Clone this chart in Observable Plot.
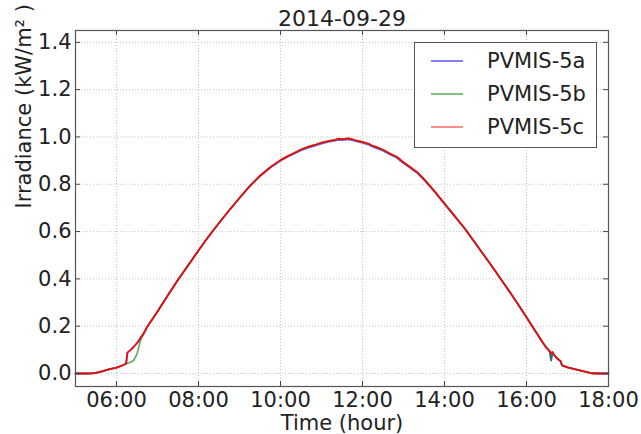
<!DOCTYPE html>
<html>
<head>
<meta charset="utf-8">
<script src="https://cdn.jsdelivr.net/npm/d3@7"></script>
<script src="https://cdn.jsdelivr.net/npm/@observablehq/plot@0.6"></script>
<style>
  html, body { margin: 0; padding: 0; background: #fff; }
  #wrap { position: relative; width: 641px; height: 434px; font-family: "DejaVu Sans", sans-serif; }
  #legend {
    position: absolute; left: 414px; top: 42px; width: 181px; height: 104px;
    border: 1px solid #555; background: #fff; box-sizing: content-box;
  }
  .entry { position: absolute; left: 0; height: 30px; display: flex; align-items: center; font-size: 21px; color: #222; }
  .swatch { display: inline-block; width: 32px; height: 2px; margin-left: 16px; margin-right: 24px; }
</style>
</head>
<body>
<div id="wrap"></div>
<script>
// Measurement day and series names
const title = "2014-09-29";
const seriesNames = ["PVMIS-5a", "PVMIS-5b", "PVMIS-5c"];
const seriesColors = ["#0000ff", "#008000", "#ff0000"];
const legendColors = ["#8080ff", "#80c080", "#ff8c8c"];

// Sample times (local clock, hh:mm)
const times = [
  "05:00","05:15","05:25","05:30","05:40","05:50","06:00","06:10","06:14","06:16",
  "06:20","06:25","06:30","06:35","06:40","06:45","07:00","07:15","07:30","07:45",
  "08:00","08:15","08:30","08:45","09:00","09:15","09:30","09:45","10:00","10:10",
  "10:20","10:30","10:40","10:50","11:00","11:10","11:20","11:25","11:30","11:40",
  "11:50","12:00","12:10","12:15","12:20","12:30","12:40","12:50","13:00","13:10",
  "13:20","13:30","13:45","14:00","14:15","14:30","14:45","15:00","15:15","15:30",
  "15:45","16:00","16:15","16:25","16:30","16:34","16:36","16:38","16:40","16:45",
  "16:50","16:52","17:00","17:15","17:30","17:35","17:45","18:00"
];

// Irradiance, kW/m^2
const pvmis5a = [
  0.000,0.000,0.001,0.003,0.010,0.018,0.025,0.036,0.041,0.088,
  0.098,0.112,0.128,0.150,0.170,0.198,0.262,0.330,0.396,0.458,
  0.520,0.580,0.636,0.690,0.742,0.792,0.834,0.870,0.899,0.915,
  0.929,0.943,0.954,0.962,0.972,0.979,0.984,0.988,0.987,0.990,
  0.982,0.975,0.966,0.958,0.953,0.942,0.926,0.912,0.889,0.869,
  0.848,0.819,0.770,0.717,0.664,0.611,0.551,0.491,0.430,0.368,
  0.304,0.238,0.170,0.126,0.106,0.094,0.055,0.090,0.080,0.063,
  0.052,0.034,0.026,0.015,0.005,0.001,0.000,0.000
];
const pvmis5b = [
  0.000,0.000,0.001,0.003,0.010,0.018,0.025,0.036,0.041,0.044,
  0.047,0.055,0.082,0.138,0.170,0.198,0.262,0.330,0.396,0.458,
  0.520,0.580,0.636,0.690,0.742,0.792,0.836,0.872,0.902,0.918,
  0.932,0.947,0.958,0.966,0.976,0.982,0.988,0.993,0.991,0.994,
  0.986,0.979,0.970,0.962,0.958,0.946,0.930,0.916,0.893,0.872,
  0.851,0.822,0.772,0.718,0.665,0.612,0.552,0.491,0.430,0.368,
  0.304,0.238,0.170,0.126,0.106,0.094,0.056,0.090,0.080,0.063,
  0.052,0.034,0.026,0.015,0.005,0.001,0.000,0.000
];
const pvmis5c = [
  0.000,0.000,0.001,0.003,0.010,0.018,0.025,0.036,0.041,0.088,
  0.098,0.112,0.128,0.150,0.170,0.198,0.262,0.330,0.396,0.458,
  0.520,0.580,0.636,0.690,0.742,0.792,0.836,0.872,0.902,0.918,
  0.932,0.947,0.958,0.966,0.976,0.982,0.988,0.993,0.991,0.994,
  0.986,0.979,0.970,0.962,0.958,0.946,0.930,0.916,0.893,0.872,
  0.851,0.822,0.772,0.718,0.665,0.612,0.552,0.491,0.430,0.368,
  0.304,0.238,0.170,0.126,0.106,0.094,0.086,0.091,0.080,0.063,
  0.052,0.034,0.026,0.015,0.005,0.001,0.000,0.000
];

// Axis ticks
const xTickLabels = ["06:00","08:00","10:00","12:00","14:00","16:00","18:00"];
const yTickValues = [0.0, 0.2, 0.4, 0.6, 0.8, 1.0, 1.2, 1.4];
const xDomainLabels = ["05:00", "18:00"];
const yDomain = [-0.055, 1.45];

const xLabel = "Time (hour)";
const yLabel = "Irradiance (kW/m\u00B2 )";

const toDate = (hm) => {
  const [h, m] = hm.split(":").map(Number);
  return new Date(Date.UTC(2014, 8, 29, h, m));
};

const seriesValues = [pvmis5a, pvmis5b, pvmis5c];
const rows = seriesValues.map((vals) => times.map((t, i) => ({time: toDate(t), value: vals[i]})));

const W = 641, H = 434;
const margin = {left: 75, right: 33, top: 30, bottom: 48};
const plotW = W - margin.left - margin.right;
const plotH = H - margin.top - margin.bottom;
const tickLen = 5;
const xTicks = xTickLabels.map(toDate);

const gridStyle = {stroke: "#b4b4b4", strokeOpacity: 1, strokeWidth: 0.8, strokeDasharray: "1,2"};
const lineOpacity = [0.6, 0.6, 0.9];

const chart = Plot.plot({
  width: W,
  height: H,
  marginLeft: margin.left,
  marginRight: margin.right,
  marginTop: margin.top,
  marginBottom: margin.bottom,
  style: {fontFamily: "DejaVu Sans, sans-serif", fontSize: "21px", color: "#222", background: "#fff", overflow: "visible"},
  x: {type: "utc", domain: xDomainLabels.map(toDate)},
  y: {domain: yDomain},
  marks: [
    Plot.gridX(xTicks, gridStyle),
    Plot.gridY(yTickValues, gridStyle),
    ...rows.map((data, k) => Plot.line(data, {
      x: "time", y: "value",
      stroke: seriesColors[k],
      strokeOpacity: lineOpacity[k],
      strokeWidth: 1.8
    })),
    // inward tick marks on all four sides
    Plot.ruleX(xTicks, {x: (d) => d, insetBottom: plotH - tickLen, stroke: "#444"}),
    Plot.ruleX(xTicks, {x: (d) => d, insetTop: plotH - tickLen, stroke: "#444"}),
    Plot.ruleY(yTickValues, {y: (d) => d, insetRight: plotW - tickLen, stroke: "#444"}),
    Plot.ruleY(yTickValues, {y: (d) => d, insetLeft: plotW - tickLen, stroke: "#444"}),
    Plot.frame({stroke: "#555", strokeWidth: 1.2}),
    Plot.axisX(xTicks, {tickSize: 0, tickPadding: 6, tickFormat: d3.utcFormat("%H:%M"), label: null}),
    Plot.axisY(yTickValues, {tickSize: 0, tickPadding: 4, tickFormat: d3.format(".1f"), label: null}),
    Plot.text([title], {frameAnchor: "top", lineAnchor: "bottom", dy: -5, fontSize: 22, fill: "#222"}),
    Plot.text([xLabel], {frameAnchor: "bottom", lineAnchor: "bottom", dy: 43, fill: "#222"}),
    Plot.text([yLabel], {frameAnchor: "left", lineAnchor: "bottom", rotate: -90, dx: -45, fill: "#222"})
  ]
});

const wrap = document.getElementById("wrap");
wrap.appendChild(chart);

// Legend box in the upper right of the plot area
const legend = document.createElement("div");
legend.id = "legend";
seriesNames.forEach((name, k) => {
  const row = document.createElement("div");
  row.className = "entry";
  row.style.top = (3 + 33 * k) + "px";
  const sw = document.createElement("span");
  sw.className = "swatch";
  sw.style.background = legendColors[k];
  const label = document.createElement("span");
  label.textContent = name;
  row.appendChild(sw);
  row.appendChild(label);
  legend.appendChild(row);
});
wrap.appendChild(legend);
</script>
</body>
</html>
